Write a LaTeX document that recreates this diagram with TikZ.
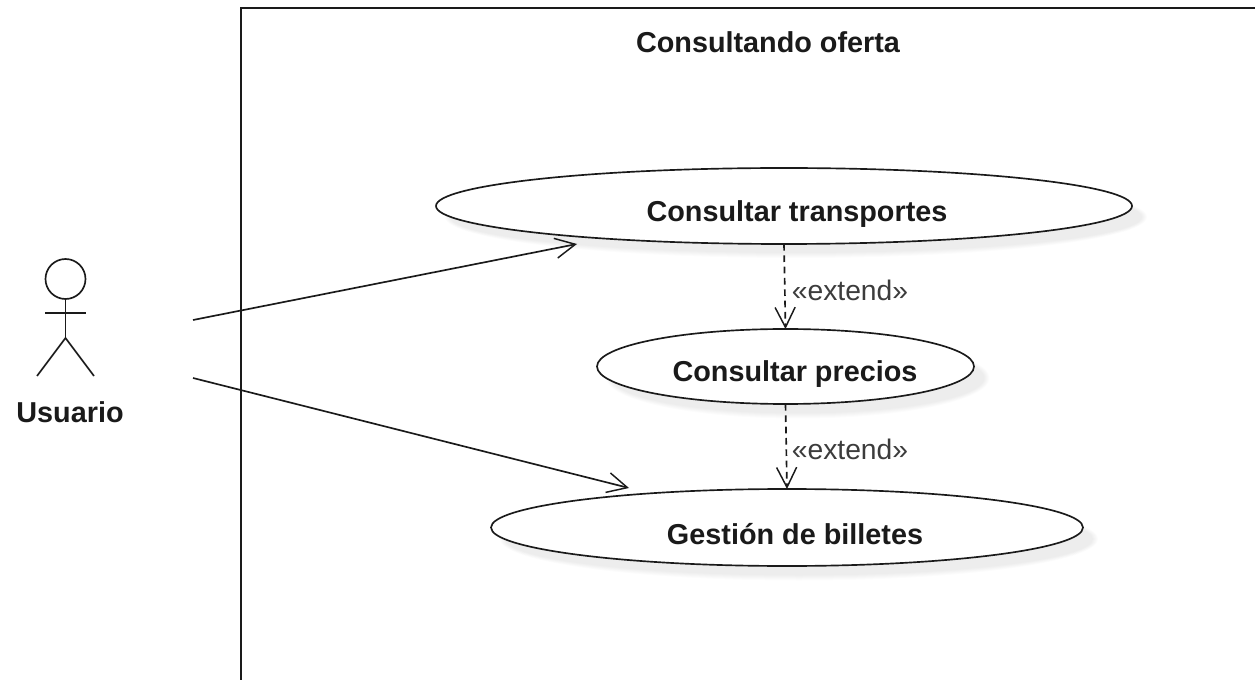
\documentclass[tikz,border=0pt]{standalone}
\usepackage{fontspec}
\setmainfont{Liberation Sans}
\usetikzlibrary{arrows.meta,shapes.geometric}
\definecolor{ink}{HTML}{1A1A1A}
\tikzset{
  usecase/.style={draw=ink,line width=1.25pt,ellipse,fill=white,inner sep=0pt,outer sep=0pt},
  caseshadow/.style={ellipse,fill=black,fill opacity=0.012,inner sep=0pt},
  strokeline/.style={draw=ink,line width=1.25pt},
  opentip/.style={-{Straight Barb[length=15pt,width=15pt,line width=1.1pt]}},
  assoc/.style={strokeline,opentip},
  extendline/.style={strokeline,opentip,dash pattern=on 5pt off 3.5pt},
  boldlabel/.style={font=\fontsize{21.6}{25}\selectfont\bfseries,text=ink,inner sep=0pt},
  stereo/.style={font=\fontsize{21.2}{25}\selectfont,text=ink!85,inner sep=0pt}
}
\newcommand{\shadowstack}[4]{%
  \foreach \g in {0,1.5,3,4.5,6,7.5}{%
    \node[caseshadow,minimum width=#3*0.75pt+\g*1pt-3pt,minimum height=#4*0.75pt+\g*1pt-3pt] at (#1,#2) {};}}
\begin{document}
\begin{tikzpicture}[x=0.75pt,y=-0.75pt]
\useasboundingbox (0,0) rectangle (1255,680);
\fill[white] (0,0) rectangle (1255,680);
% system boundary
\coordinate (frameA) at (241,680);
\coordinate (frameB) at (241,8);
\coordinate (frameC) at (1255,8);
\draw[strokeline] (frameA) -- (frameB) -- (frameC);
\node[boldlabel] (title) at (768,42) {Consultando oferta};
% shadows
\shadowstack{796}{217}{696}{76}
\shadowstack{798}{378}{377}{75}
\shadowstack{799}{539}{592}{77}
% use cases
\node[usecase,minimum width=522pt,minimum height=57pt] (t) at (784,206) {};
\node[usecase,minimum width=282.75pt,minimum height=56.25pt] (p) at (785.5,366.5) {};
\node[usecase,minimum width=444pt,minimum height=57.75pt] (g) at (787,527.5) {};
\node[boldlabel] (tl) at (797,214) {Consultar transportes};
\node[boldlabel] (pl) at (795,374) {Consultar precios};
\node[boldlabel] (gl) at (795,534) {Gestión de billetes};
% actor
\node[draw=ink,line width=1.25pt,circle,minimum size=30pt,inner sep=0pt,outer sep=0pt] (head) at (65.5,279) {};
\coordinate (hip) at (65.5,338);
\coordinate (armL) at (45,313);
\coordinate (armR) at (86,313);
\coordinate (legL) at (37,376);
\coordinate (legR) at (94,376);
\draw[strokeline] (head.south) -- (hip);
\draw[strokeline] (armL) -- (armR);
\draw[strokeline] (legL) -- (hip) -- (legR);
\node[boldlabel] (usuario) at (70,412) {Usuario};
% connectors
\coordinate (a1) at (193,320);
\coordinate (a2) at (193,378);
\coordinate (t1) at (577,244);
\coordinate (g1) at (629,488);
\draw[assoc] (a1) -- (t1);
\draw[assoc] (a2) -- (g1);
\draw[extendline] (t.south) -- (p.north);
\draw[extendline] (p.south) -- (g.north);
\node[stereo] (e1) at (850,290) {«extend»};
\node[stereo] (e2) at (850,449) {«extend»};
\end{tikzpicture}
\end{document}
